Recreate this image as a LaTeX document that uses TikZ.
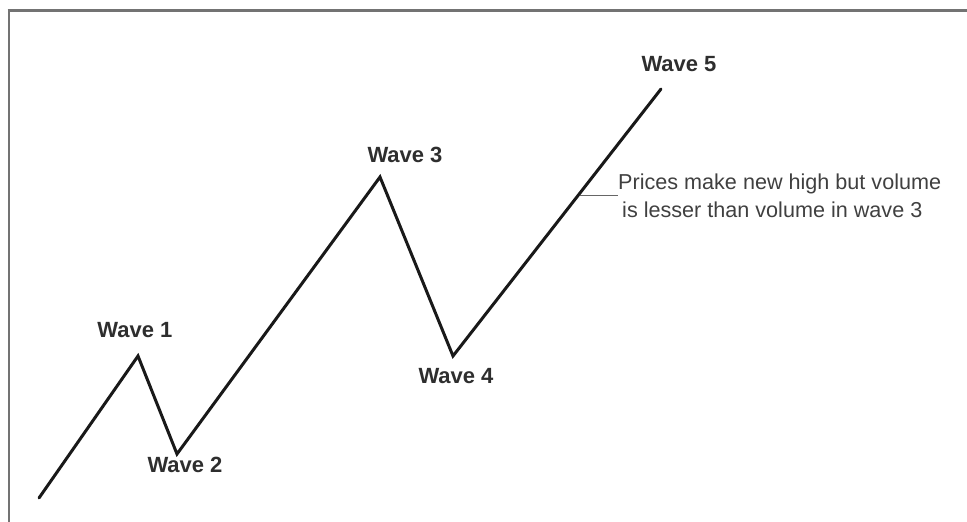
\documentclass[tikz,border=0pt]{standalone}
\usepackage{fontspec}
\setmainfont{Liberation Sans}
\begin{document}
\begin{tikzpicture}[x=1pt,y=-1pt,
  wavelabel/.style={font=\fontsize{22}{24}\selectfont\bfseries, text=black!82, inner sep=0pt},
  note/.style={font=\fontsize{21.6}{28}\selectfont, text=black!75, inner sep=0pt, align=left},
  waveline/.style={line width=3pt, line join=miter, line cap=round, black!90},
  frameline/.style={draw=black!55}]
\useasboundingbox (0,0) rectangle (967,522);
% frame
\draw[frameline, line width=3pt] (7.5,10.5) -- (967,10.5);
\draw[frameline, line width=2pt] (8.5,9) -- (8.5,522);
% wave points
\coordinate (p0) at (39,498);
\coordinate (p1) at (138,356);
\coordinate (p2) at (177,454);
\coordinate (p3) at (380,177);
\coordinate (p4) at (453,356);
\coordinate (p5) at (661,89);
\draw[waveline] (p0) -- (p1) -- (p2) -- (p3) -- (p4) -- (p5);
% labels
\node[wavelabel] (w1) at (135,330) {Wave 1};
\node[wavelabel] (w2) at (185,465) {Wave 2};
\node[wavelabel] (w3) at (405,155) {Wave 3};
\node[wavelabel] (w4) at (456,376) {Wave 4};
\node[wavelabel] (w5) at (679,64) {Wave 5};
% annotation
\node[note, anchor=west] (n) at (618,196) {Prices make new high but volume\\\hspace{4pt}is lesser than volume in wave 3};
\coordinate (lp) at (580,195);
\draw[black!60, line width=0.8pt] (lp) -- (n.west |- lp);
\end{tikzpicture}
\end{document}
